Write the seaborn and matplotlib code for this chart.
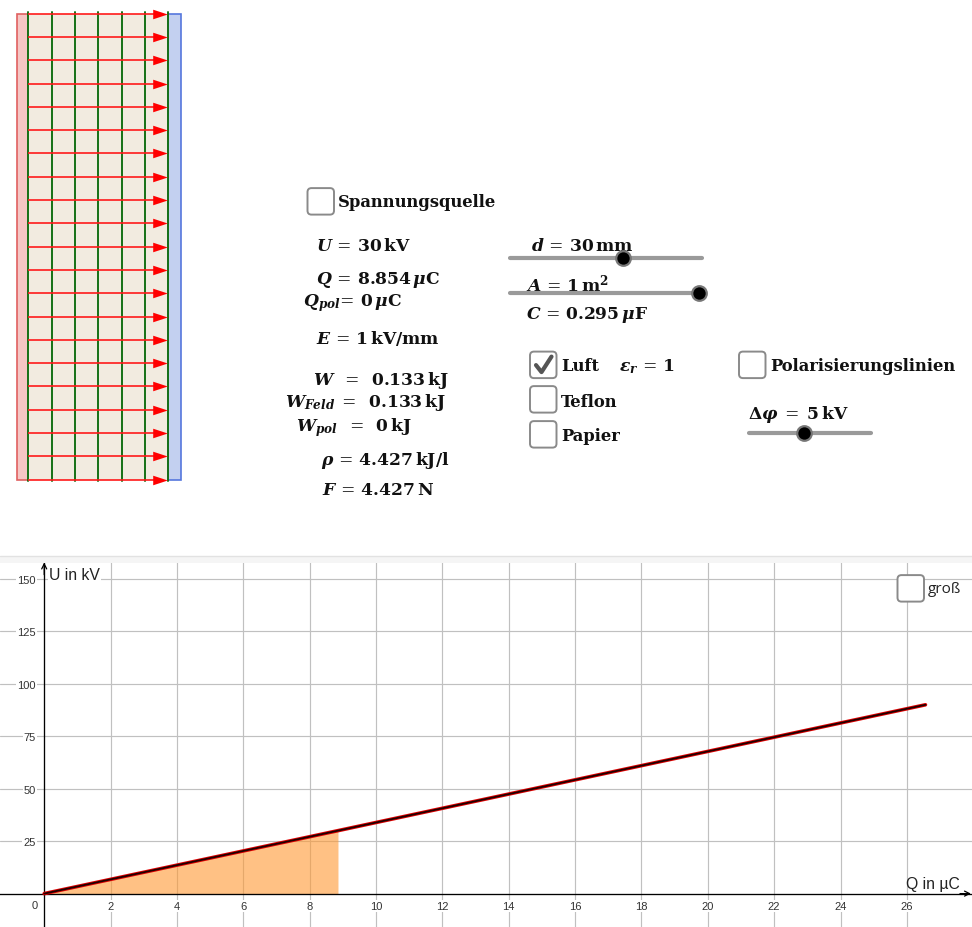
import matplotlib
matplotlib.use("Agg")
import matplotlib.pyplot as plt
from matplotlib.patches import FancyBboxPatch, Rectangle
from matplotlib.path import Path
import pandas as pd
import seaborn as sns

# ---- chart values
Q_curve = [0, 26.56]
U_curve = [0, 90]
Q_area = [0, 8.854]
U_area = [0, 30]
x_ticks = [2, 4, 6, 8, 10, 12, 14, 16, 18, 20, 22, 24, 26]
y_ticks = [25, 50, 75, 100, 125, 150]

# ---- capacitor sketch values
field_y = [14, 37.3, 60.6, 83.9, 107.2, 130.5, 153.8, 177.1, 200.4, 223.7, 247,
           270.3, 293.6, 316.9, 340.2, 363.5, 386.8, 410.1, 433.4, 456.7, 480]
potential_x = [28, 52, 75, 98, 122, 145, 168]

formulas = [
    (316, 245, r"$\mathbfit{U}\,=\,\mathbf{30\,kV}$"),
    (316, 279, r"$\mathbfit{Q}\,=\,\mathbf{8.854}\,\mathbfit{\mu}\mathbf{C}$"),
    (303, 302, r"$\mathbfit{Q_{pol}}\!=\,\mathbf{0}\,\mathbfit{\mu}\mathbf{C}$"),
    (316, 338, r"$\mathbfit{E}\,=\,\mathbf{1\,kV/mm}$"),
    (313, 380, r"$\mathbfit{W}\;\;=\;\;\mathbf{0.133\,kJ}$"),
    (285, 402, r"$\mathbfit{W_{Feld}}\;=\;\;\mathbf{0.133\,kJ}$"),
    (296, 427, r"$\mathbfit{W_{pol}}\;\;=\;\;\mathbf{0\,kJ}$"),
    (321, 460, r"$\mathbfit{\rho}\,=\,\mathbf{4.427\,kJ/l}$"),
    (322, 489, r"$\mathbfit{F}\,=\,\mathbf{4.427\,N}$"),
    (531, 245, r"$\mathbfit{d}\,=\,\mathbf{30\,mm}$"),
    (526, 283, r"$\mathbfit{A}\,=\,\mathbf{1\,m^2}$"),
    (526, 314, r"$\mathbfit{C}\,=\,\mathbf{0.295}\,\mathbfit{\mu}\mathbf{F}$"),
    (619, 366, r"$\mathbfit{\epsilon_r}\,=\,\mathbf{1}$"),
    (748, 414, r"$\mathbf{\Delta}\mathbfit{\varphi}\;=\;\mathbf{5\,kV}$"),
]
labels = [
    (338, 202, "Spannungsquelle"),
    (561, 366, "Luft"),
    (561, 402, "Teflon"),
    (561, 436, "Papier"),
    (770, 366, "Polarisierungslinien"),
]
checkboxes = [(307.5, 188.5, 26.5), (530, 352, 26.5), (530, 386.5, 26.5), (530, 421.5, 26.5), (739, 352, 26.5)]
sliders = [(510, 702, 258, 623), (510, 699, 293, 699), (749, 871, 433, 804)]

plt.rcParams["mathtext.fontset"] = "dejavuserif"
sns.set_theme(style="white", rc={"font.family": "Liberation Sans"})
W, H = 972, 928
fig = plt.figure(figsize=(W / 100, H / 100), dpi=100, facecolor="white")

# ---- graph panel
x0, x1 = 0, 972
top, bottom = 563, 928
ax = fig.add_axes([x0 / W, 1 - bottom / H, (x1 - x0) / W, (bottom - top) / H])
px_x = 33.18
px_y = 2.098
ax.set_xlim(-44.2 / px_x, (972 - 44.2) / px_x)
ax.set_ylim(-(928 - 894.6) / px_y, (894.6 - 563) / px_y)
ax.set_xticks(x_ticks)
ax.set_yticks(y_ticks)
ax.grid(True, color="#c0c0c0", lw=0.85, zorder=0)
ax.set_axisbelow(True)
ax.fill_between(Q_area, U_area, 0, color="#ff9933", alpha=0.6, lw=0, zorder=1.5)
curve = pd.DataFrame({"Q": Q_curve, "U": U_curve})
sns.lineplot(data=curve, x="Q", y="U", color="#e00000", lw=2.6, ax=ax, zorder=3, errorbar=None)
sns.lineplot(data=curve, x="Q", y="U", color="#200000", lw=1.3, ax=ax, zorder=3.1, errorbar=None)
ax.set_xlabel("")
ax.set_ylabel("")
for s in ["top", "right"]:
    ax.spines[s].set_visible(False)
ax.spines["left"].set_position(("data", 0))
ax.spines["bottom"].set_position(("data", 0))
for s in ["left", "bottom"]:
    ax.spines[s].set_linewidth(0.95)
    ax.spines[s].set_color("black")
ax.tick_params(axis="both", length=0, labelsize=8, labelcolor="#333333")
ax.tick_params(axis="x", pad=5.5)
ax.tick_params(axis="y", pad=6)
for t in ax.get_xticklabels() + ax.get_yticklabels():
    t.set_bbox(dict(facecolor="white", edgecolor="none", pad=0.8))
ax.text(-0.3, -5.6, "0", fontsize=8, color="#333333", ha="center", va="center",
        bbox=dict(facecolor="white", edgecolor="none", pad=0.8))
ax.annotate("", xy=(0, 157.8), xytext=(0, 152), arrowprops=dict(arrowstyle="->", lw=0.9, color="black", mutation_scale=9, shrinkA=0, shrinkB=0))
ax.annotate("", xy=(27.93, 0), xytext=(27.6, 0), arrowprops=dict(arrowstyle="->", lw=0.9, color="black", mutation_scale=9, shrinkA=0, shrinkB=0))

# ---- everything else, in screen pixels
ov = fig.add_axes([0, 0, 1, 1], facecolor="none")
ov.set_xlim(0, W)
ov.set_ylim(H - 0.6, -0.6)
ov.axis("off")

ov.add_patch(Rectangle((0, 556), W, 7, fc="#f5f5f5", ec="none"))
ov.plot([0, W], [556, 556], color="#e2e2e2", lw=1)
ov.text(49, 575, "U in kV", fontsize=11.3, color="#222222", va="center",
        bbox=dict(facecolor="white", edgecolor="none", pad=0.5))
ov.text(906, 884, "Q in µC", fontsize=11.3, color="#222222", va="center")

# capacitor
ov.add_patch(Rectangle((16.5, 14), 11.5, 466, fc="#f5c6c4", ec="#e06060", lw=1.2))
ov.add_patch(Rectangle((28, 14), 140, 466, fc="#f2ebe0", ec="none"))
ov.add_patch(Rectangle((168, 14), 12.5, 466, fc="#c3d0f0", ec="#5577dd", lw=1.2))
tri = Path([(-7, -4.6), (7, 0), (-7, 4.6), (-7, -4.6)], closed=True)
for y in field_y:
    ov.plot([28, 160], [y, y], color="#ff1a1a", lw=1.2, solid_capstyle="butt", zorder=4)
    ov.plot([160], [y], marker=tri, ms=10.5, color="#ff0000", mew=0, zorder=5)
for x in potential_x:
    ov.plot([x, x], [12.5, 481], color="#157015", lw=1.4, zorder=3.5)

# text
for x, y, s in formulas:
    ov.text(x, y, s, fontsize=12.3, color="#111111", ha="left", va="center")
for x, y, s in labels:
    ov.text(x, y, s, fontsize=11.8, family="DejaVu Serif", weight="bold", color="#111111", ha="left", va="center")
ov.text(928, 589, "groß", fontsize=11, family="Open Sans", color="#222222", ha="left", va="center")

# checkboxes
for x, y, s in checkboxes + [(897.5, 575.5, 26.5)]:
    ov.add_patch(FancyBboxPatch((x + 3, y + 3), s - 6, s - 6, boxstyle="round,pad=3,rounding_size=4",
                                fc="white", ec="#8a8a8a", lw=1.4, zorder=6))
ov.plot([536, 541.5, 551.5], [365.5, 372.5, 357], color="#555555", lw=3, zorder=7, solid_capstyle="round")

# sliders
for xa, xb, y, k in sliders:
    ov.plot([xa, xb], [y, y], color="#9a9a9a", lw=3, solid_capstyle="round", zorder=6)
    ov.plot([k], [y], "o", ms=10.5, mfc="black", mec="#777777", mew=1.6, zorder=8)

fig.savefig("out.png", dpi=100)
